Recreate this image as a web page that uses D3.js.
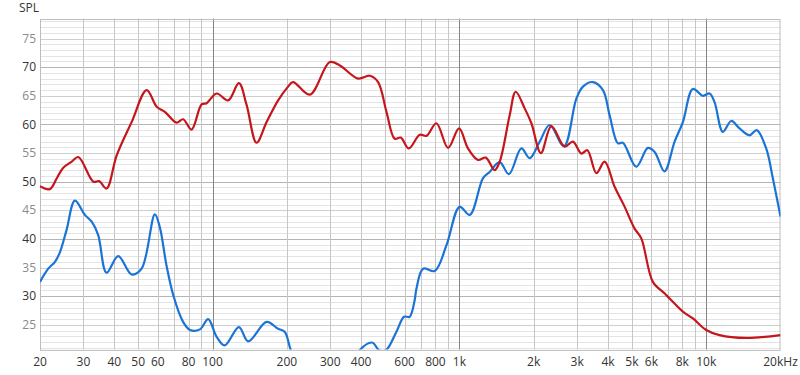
<!DOCTYPE html>
<html>
<head>
<meta charset="utf-8">
<script src="https://cdn.jsdelivr.net/npm/d3@7"></script>
<style>
  body { margin: 0; background: #fff; }
  svg text { font-family: "Open Sans", "Noto Sans", sans-serif; }
</style>
</head>
<body>
<div id="chart"></div>
<script>
// frequency response, two drivers (SPL in dB vs Hz)
var redFreq = [20, 21.9, 23.4, 24.8, 26.9, 28.6, 32.9, 34.7, 37.2, 40.9, 47, 54.1, 59.4, 64.1, 71.5, 76, 82.2, 90.3, 94.6, 103.9,
    115.7, 127.9, 137.4, 150.8, 165.6, 184.4, 202.4, 212, 247.8, 298.6, 327.9, 389, 433.7, 468.6, 506.6, 547, 578.9, 623.8,
    691, 735.6, 807, 900, 997, 1084, 1190, 1279, 1390, 1457, 1599, 1691, 1839, 1958, 2140, 2359, 2670, 2884, 3120, 3300,
    3589, 3877, 4256, 4640, 5128, 5458, 6081, 6778, 7106, 8045, 8831, 10000, 11320, 14520, 20000];
var redSpl = [49.2, 48.7, 50.6, 52.4, 53.5, 54.3, 50.0, 50.1, 48.8, 54.6, 60.4, 66.0, 63.1, 62.2, 60.3, 60.9, 59.1, 63.5, 63.7, 65.4,
    64.2, 67.2, 63.4, 56.8, 60.4, 64.2, 66.6, 67.4, 65.2, 70.9, 70.3, 68.0, 68.5, 67.4, 62.2, 57.5, 57.7, 55.8,
    58.2, 58.0, 60.2, 55.9, 59.3, 55.8, 53.8, 54.2, 52.0, 53.5, 61.6, 65.7, 62.8, 60.2, 55.0, 59.7, 56.1, 57.0, 54.9, 55.5,
    51.5, 53.5, 49.1, 45.9, 41.8, 40.1, 32.5, 30.5, 29.6, 27.3, 26.1, 24.1, 23.2, 22.7, 23.2];

var blueFreq = [20, 21.6, 23, 24.1, 25.6, 27.7, 30.4, 32.4, 34.4, 37.2, 41.5, 47, 51.6, 58.4, 61.2, 65, 69.3, 76, 81, 88.9,
    96, 103.9, 112, 127.9, 139.4, 165.6, 184.4, 196, 210, 250, 300, 360, 395, 443, 475, 505, 556, 597, 629, 659,
    670, 713, 795, 887, 1003, 1102, 1247, 1327, 1457, 1588, 1783, 1927, 2116, 2322, 2654, 2978, 3167, 3477, 3817, 4062,
    4389, 4598, 5210, 5804, 6181, 6778, 7448, 8045, 8831, 9692, 10320, 10810, 11680, 12630, 13650, 14980, 16030, 17500,
    18620, 20000];
var blueSpl = [32.5, 34.8, 36.0, 37.7, 41.5, 46.7, 44.2, 43.0, 40.7, 34.1, 37.0, 33.8, 34.8, 44.3, 42.0, 35.5, 30.2, 25.5, 24.1, 24.2,
    26.0, 22.9, 21.4, 24.6, 22.1, 25.5, 24.3, 23.8, 20.0, 15, 16, 17.5, 20.6, 21.9, 20.5, 20.6, 23.8, 26.4, 26.4, 29.3,
    31.3, 34.8, 34.4, 38.9, 45.6, 44.2, 50.6, 51.7, 53.4, 51.3, 55.8, 54.1, 57.0, 59.9, 56.2, 64.5, 66.6, 67.4, 66.0, 61.6,
    56.7, 56.8, 52.6, 55.9, 55.2, 51.8, 57.0, 60.4, 66.2, 65.0, 65.4, 63.9, 58.7, 60.6, 59.3, 58.1, 59.0, 55.8,
    50.6, 43.9];

var xTickValues = [20, 30, 40, 50, 60, 80, 100, 200, 300, 400, 600, 800, 1000, 2000, 3000, 4000, 5000, 6000, 8000, 10000, 20000];
var xTickLabels = ["20", "30", "40", "50", "60", "80", "100", "200", "300", "400", "600", "800", "1k", "2k", "3k", "4k", "5k", "6k", "8k", "10k", "20kHz"];
var yTickValues = [25, 30, 35, 40, 45, 50, 55, 60, 65, 70, 75];

(function () {
    var width = 800, height = 375;
    var pLeft = 40, pRight = 780.5, pTop = 18.5, pBottom = 349.4;

    var svg = d3.select("#chart").append("svg")
            .attr("width", width)
            .attr("height", height);

    var x = d3.scaleLog().domain([20, 20000]).range([pLeft, pRight]);
    var y = d3.scaleLinear().domain([20.7, 78.5]).range([pBottom, pTop]);

    //horizontal grid, one line per dB
    var gy = svg.append("g");
    d3.range(21, 79).forEach(function (v) {
        var col = v % 10 === 0 ? "#b4b4b4" : (v % 5 === 0 ? "#cfcfcf" : "#e4e4e4");
        gy.append("line")
                .attr("x1", pLeft).attr("x2", pRight)
                .attr("y1", Math.round(y(v)) + 0.5).attr("y2", Math.round(y(v)) + 0.5)
                .attr("stroke", col)
                .attr("stroke-width", 1);
    });

    //vertical grid, 1-2-3...9 per decade
    var xGrid = [];
    [10, 100, 1000, 10000].forEach(function (dec) {
        for (var k = 1; k < 10; k++) {
            var f = dec * k;
            if (f > 20 && f < 20000) xGrid.push(f);
        }
    });
    svg.append("g").selectAll("line")
            .data(xGrid)
            .enter().append("line")
            .attr("x1", function (d) { return Math.round(x(d)) + 0.5; })
            .attr("x2", function (d) { return Math.round(x(d)) + 0.5; })
            .attr("y1", pTop).attr("y2", pBottom)
            .attr("stroke", function (d) {
                return (d === 100 || d === 1000 || d === 10000) ? "#858585" : "#c6c6c6";
            })
            .attr("stroke-width", 1);

    //frame
    svg.append("rect")
            .attr("x", pLeft + 0.5).attr("y", Math.round(pTop) + 0.5)
            .attr("width", pRight - pLeft - 1).attr("height", pBottom - pTop)
            .attr("fill", "none")
            .attr("stroke", "#bdbdbd");

    //y labels (tens dark, fives grey)
    svg.append("g").selectAll("text")
            .data(yTickValues)
            .enter().append("text")
            .attr("x", 36)
            .attr("y", function (d) { return y(d); })
            .attr("dy", "0.35em")
            .attr("text-anchor", "end")
            .attr("font-size", 12)
            .attr("fill", function (d) { return d % 10 === 0 ? "#333" : "#8a8a8a"; })
            .text(function (d) { return d; });

    svg.append("text")
            .attr("x", 19).attr("y", 12)
            .attr("font-size", 12)
            .attr("fill", "#333")
            .text("SPL");

    //x labels
    svg.append("g").selectAll("text")
            .data(xTickValues)
            .enter().append("text")
            .attr("x", function (d) { return x(d); })
            .attr("y", 366)
            .attr("text-anchor", "middle")
            .attr("font-size", 12)
            .attr("fill", "#333")
            .text(function (d, i) { return xTickLabels[i]; });

    svg.append("clipPath").attr("id", "plotclip")
            .append("rect")
            .attr("x", pLeft).attr("y", pTop)
            .attr("width", pRight - pLeft).attr("height", pBottom - pTop);

    var line = d3.line()
            .x(function (d) { return x(d[0]); })
            .y(function (d) { return y(d[1]); })
            .curve(d3.curveCatmullRom.alpha(0.5));

    var plot = svg.append("g").attr("clip-path", "url(#plotclip)");

    plot.append("path")
            .datum(blueFreq.map(function (f, i) { return [f, blueSpl[i]]; }))
            .attr("d", line)
            .attr("fill", "none")
            .attr("stroke", "#1a74d6")
            .attr("stroke-width", 2.2);

    plot.append("path")
            .datum(redFreq.map(function (f, i) { return [f, redSpl[i]]; }))
            .attr("d", line)
            .attr("fill", "none")
            .attr("stroke", "#c4161c")
            .attr("stroke-width", 2.2);
})();
</script>
</body>
</html>
